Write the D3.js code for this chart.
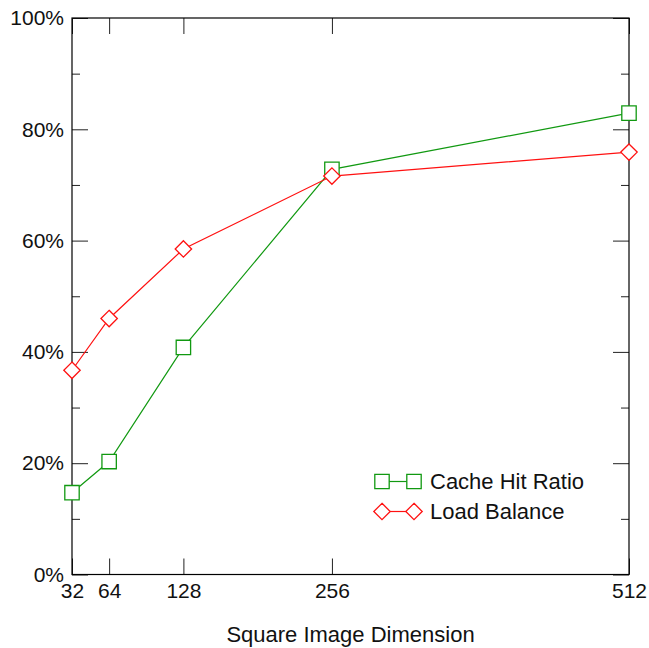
<!DOCTYPE html>
<html>
<head>
<meta charset="utf-8">
<script src="https://cdn.jsdelivr.net/npm/d3@7"></script>
<style>
  body { margin: 0; background: #fff; }
  svg text { font-family: "Liberation Sans", Arial, sans-serif; }
</style>
</head>
<body>
<div id="chart"></div>
<script>
// data
var sizes = [32, 64, 128, 256, 512]
var cacheHit = [0.147, 0.203, 0.408, 0.728, 0.829]
var loadBalance = [0.367, 0.460, 0.585, 0.716, 0.759]
var yMajor = [0, 0.2, 0.4, 0.6, 0.8, 1.0]
var yMinor = [0.1, 0.3, 0.5, 0.7, 0.9]

var width = 649
var height = 648
var margin = { top: 18, right: 20, bottom: 73.5, left: 72 }

var svg = d3.select("#chart")
  .append("svg")
  .attr("width", width)
  .attr("height", height)

var x = d3.scaleLinear()
  .domain([32, 512])
  .range([margin.left, width - margin.right])

var y = d3.scaleLinear()
  .domain([0, 1])
  .range([height - margin.bottom, margin.top])

var pct = function (d) { return Math.round(d * 100) + "%" }

function styleAxis(g) {
  g.select(".domain").remove()
  g.selectAll(".tick line").attr("stroke", "#222")
  g.selectAll(".tick text").attr("fill", "#111").style("font-size", "21px")
}

// left axis
svg.append("g")
  .attr("transform", "translate(" + margin.left + ",0)")
  .call(d3.axisLeft(y).tickValues(yMajor).tickFormat(pct).tickSizeInner(-16).tickSizeOuter(0).tickPadding(8))
  .call(styleAxis)
svg.append("g")
  .attr("transform", "translate(" + margin.left + ",0)")
  .call(d3.axisLeft(y).tickValues(yMinor).tickFormat("").tickSizeInner(-8).tickSizeOuter(0))
  .call(styleAxis)

// right axis
svg.append("g")
  .attr("transform", "translate(" + (width - margin.right) + ",0)")
  .call(d3.axisRight(y).tickValues(yMajor).tickFormat("").tickSizeInner(-16).tickSizeOuter(0))
  .call(styleAxis)
svg.append("g")
  .attr("transform", "translate(" + (width - margin.right) + ",0)")
  .call(d3.axisRight(y).tickValues(yMinor).tickFormat("").tickSizeInner(-8).tickSizeOuter(0))
  .call(styleAxis)

// bottom axis
svg.append("g")
  .attr("transform", "translate(0," + (height - margin.bottom) + ")")
  .call(d3.axisBottom(x).tickValues(sizes).tickSizeInner(-16).tickSizeOuter(0).tickPadding(9))
  .call(styleAxis)

// top axis
svg.append("g")
  .attr("transform", "translate(0," + margin.top + ")")
  .call(d3.axisTop(x).tickValues(sizes).tickFormat("").tickSizeInner(-16).tickSizeOuter(0))
  .call(styleAxis)

// frame
svg.append("rect")
  .attr("x", margin.left)
  .attr("y", margin.top)
  .attr("width", width - margin.left - margin.right)
  .attr("height", height - margin.top - margin.bottom)
  .attr("fill", "none")
  .attr("stroke", "#000")
  .attr("stroke-width", 1.2)

// axis title
svg.append("text")
  .attr("x", (margin.left + width - margin.right) / 2)
  .attr("y", 642)
  .attr("text-anchor", "middle")
  .style("font-size", "22px")
  .attr("fill", "#111")
  .text("Square Image Dimension")

var squarePath = function (s) { return "M" + (-s) + "," + (-s) + "h" + (2 * s) + "v" + (2 * s) + "h" + (-2 * s) + "Z" }
var diamondPath = function (s) { return "M0," + (-s) + "L" + s + ",0L0," + s + "L" + (-s) + ",0Z" }

var series = [
  { name: "Cache Hit Ratio", values: cacheHit, color: "#119911", marker: squarePath(7.2) },
  { name: "Load Balance", values: loadBalance, color: "#ff1111", marker: diamondPath(8.2) }
]

var line = d3.line()
  .x(function (d) { return x(d[0]) })
  .y(function (d) { return y(d[1]) })

series.forEach(function (s) {
  var pts = sizes.map(function (v, i) { return [v, s.values[i]] })
  svg.append("path")
    .datum(pts)
    .attr("d", line)
    .attr("fill", "none")
    .attr("stroke", s.color)
    .attr("stroke-width", 1.2)
  svg.append("g")
    .selectAll("path")
    .data(pts)
    .enter()
    .append("path")
    .attr("d", s.marker)
    .attr("transform", function (d) { return "translate(" + x(d[0]) + "," + y(d[1]) + ")" })
    .attr("fill", "#fff")
    .attr("stroke", s.color)
    .attr("stroke-width", 1.3)
})

// legend
var legend = svg.append("g")
  .attr("transform", "translate(382,481.5)")

series.forEach(function (s, i) {
  var row = legend.append("g").attr("transform", "translate(0," + (i * 30) + ")")
  row.append("line")
    .attr("x1", 0).attr("x2", 32)
    .attr("stroke", s.color)
    .attr("stroke-width", 1.2)
  row.selectAll("path")
    .data([0, 32])
    .enter()
    .append("path")
    .attr("d", s.marker)
    .attr("transform", function (d) { return "translate(" + d + ",0)" })
    .attr("fill", "#fff")
    .attr("stroke", s.color)
    .attr("stroke-width", 1.3)
  row.append("text")
    .attr("x", 48)
    .attr("y", 7.5)
    .style("font-size", "22px")
    .attr("fill", "#111")
    .text(s.name)
})
</script>
</body>
</html>
